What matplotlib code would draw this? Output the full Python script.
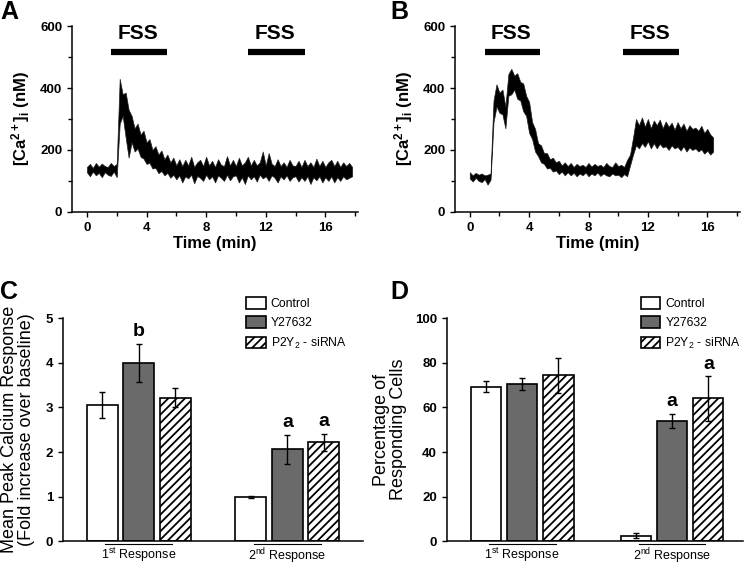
import numpy as np
import matplotlib
matplotlib.use('Agg')
import matplotlib.pyplot as plt
from matplotlib.transforms import blended_transform_factory

plt.rcParams['font.family'] = ['Liberation Sans', 'DejaVu Sans']
plt.rcParams['mathtext.fontset'] = 'custom'
plt.rcParams['mathtext.rm'] = 'Liberation Sans'
plt.rcParams['mathtext.it'] = 'Liberation Sans:italic'
plt.rcParams['mathtext.bf'] = 'Liberation Sans:bold'
plt.rcParams['hatch.linewidth'] = 1.3

## Panel A trace: low / high edge of the noisy band, every 0.2 min
t_a = np.round(np.arange(0, 17.81, 0.2), 1)
lo_a = [128, 115, 130, 118, 126, 112, 128, 120, 116, 130,
        112, 285, 310, 240, 175, 225, 195, 205, 178, 172,
        155, 158, 140, 142, 125, 132, 118, 126, 110, 120,
        105, 118, 95, 115, 108, 120, 92, 116, 110, 100,
        120, 105, 115, 95, 118, 110, 100, 120, 102, 115,
        118, 95, 112, 90, 118, 105, 115, 98, 120, 108,
        115, 100, 118, 110, 95, 115, 105, 118, 100, 112,
        115, 98, 112, 100, 115, 90, 112, 102, 115, 95,
        112, 100, 115, 95, 112, 100, 115, 105, 110, 115]
hi_a = [145, 155, 142, 158, 146, 156, 148, 145, 158, 148,
        155, 430, 380, 385, 330, 310, 270, 285, 250, 262,
        225, 235, 200, 212, 185, 198, 170, 185, 160, 175,
        150, 170, 148, 168, 150, 178, 145, 160, 168, 148,
        178, 150, 165, 145, 170, 152, 148, 180, 150, 168,
        148, 175, 150, 160, 178, 150, 168, 150, 160, 195,
        150, 190, 155, 148, 170, 148, 160, 145, 168, 150,
        148, 165, 145, 168, 148, 160, 145, 172, 148, 165,
        145, 160, 168, 148, 165, 145, 160, 148, 158, 145]

## Panel B trace
t_b = np.round(np.arange(0, 16.41, 0.2), 1)
lo_b = [108, 98, 110, 100, 96, 106, 88, 104,
        290, 340, 320, 315, 270, 375, 380, 395, 365, 360, 325, 310, 255, 235, 195,
        180, 160, 155, 140, 142, 130, 134, 122, 130, 118, 128, 118, 126, 115, 124,
        118, 127, 115, 124, 118, 127, 116, 124, 118, 115, 124, 118, 120, 112, 122,
        115, 150, 185, 215, 205, 222, 210, 228, 205, 222, 205, 220, 208, 212, 200,
        215, 205, 210, 198, 212, 195, 208, 200, 205, 195, 202, 188, 198, 185, 195]
hi_b = [128, 118, 126, 120, 124, 118, 120, 124,
        360, 412, 385, 395, 340, 445, 462, 440, 448, 420, 415, 375, 355, 290, 268,
        222, 215, 190, 190, 170, 175, 160, 165, 150, 160, 148, 158, 145, 155, 148,
        152, 145, 158, 146, 155, 148, 152, 145, 158, 148, 145, 160, 148, 152, 145,
        168, 185, 240, 300, 280, 305, 275, 300, 270, 295, 280, 298, 270, 292, 275,
        288, 265, 290, 270, 285, 262, 280, 268, 272, 262, 278, 255, 268, 250, 240]

fss_a = [(1.6, 5.4), (10.8, 14.65)]
fss_b = [(1.0, 4.75), (10.35, 14.1)]

## Bar panels
groups = ['1$^{\\mathrm{st}}$ Response', '2$^{\\mathrm{nd}}$ Response']
treatments = ['Control', 'Y27632', 'P2Y$_{\\mathrm{2}}$ - siRNA']
peak_mean = [[3.05, 1.00], [4.00, 2.06], [3.22, 2.22]]
peak_err = [[0.29, 0.02], [0.43, 0.32], [0.22, 0.19]]
peak_sig = [['', ''], ['b', 'a'], ['', 'a']]
pct_mean = [[69.3, 2.5], [70.4, 54.0], [74.3, 64.0]]
pct_err = [[2.3, 1.0], [2.8, 3.2], [7.9, 10.0]]
pct_sig = [['', ''], ['', 'a'], ['', 'a']]

faces = ['white', '#6a6a6a', 'white']
hatches = [None, None, '////']

fig = plt.figure(figsize=(7.47, 5.68), dpi=100)


def style_axes(ax):
    for s in ['top', 'right']:
        ax.spines[s].set_visible(False)
    for s in ['left', 'bottom']:
        ax.spines[s].set_linewidth(1.1)
    ax.tick_params(direction='out', length=3.5, width=1.0, labelsize=9.5)
    ax.tick_params(which='minor', direction='out', length=3, width=1.0)
    for lab in ax.get_xticklabels() + ax.get_yticklabels():
        lab.set_fontweight('bold')


def plot_trace(ax, t, lo, hi, fss):
    ax.fill_between(t, lo, hi, facecolor='k', edgecolor='#222222', lw=0.5)
    ax.set_xlim(-1.0, 18.2)
    ax.set_ylim(0, 600)
    ax.set_xticks([0, 4, 8, 12, 16])
    ax.set_xticks([2, 6, 10, 14, 18], minor=True)
    ax.set_yticks([0, 200, 400, 600])
    ax.set_yticks([100, 300, 500], minor=True)
    style_axes(ax)
    for a, b in fss:
        ax.plot([a, b], [518, 518], color='k', lw=4.5, solid_capstyle='butt', clip_on=False)
        ax.text((a + b) / 2 - 0.1, 545, 'FSS', ha='center', va='bottom',
                fontsize=15, fontweight='bold')
    ax.set_xlabel('Time (min)', fontsize=12, fontweight='bold', labelpad=2)
    ax.set_ylabel('[Ca$^{\\mathbf{2+}}$]$_{\\mathbf{i}}$ (nM)', fontsize=12,
                  fontweight='bold', labelpad=6)


def plot_bars(ax, means, errs, sig, centers, width, xmax, ylim, yticks, sig_off):
    for i in range(3):
        pos = [c + (i - 1) for c in centers]
        ax.bar(pos, means[i], width, yerr=errs[i], color=faces[i], edgecolor='k',
               linewidth=1.2, hatch=hatches[i], label=treatments[i],
               error_kw=dict(ecolor='k', elinewidth=1.0, capsize=2.5, capthick=1.0))
        for p, m, e, s in zip(pos, means[i], errs[i], sig[i]):
            if s:
                ax.text(p, m + e + sig_off, s, ha='center', va='bottom',
                        fontsize=14, fontweight='bold')
    ax.set_xlim(0, xmax)
    ax.set_ylim(*ylim)
    ax.set_yticks(yticks)
    ax.set_xticks([])
    style_axes(ax)
    tr = blended_transform_factory(ax.transData, ax.transAxes)
    for c, g in zip(centers, groups):
        ax.plot([c - 0.92, c + 0.92], [-0.014, -0.014], color='k', lw=0.8,
                transform=tr, clip_on=False)
        ax.text(c, -0.022, g, ha='center', va='top', fontsize=9, transform=tr)


axA = fig.add_axes([0.0964, 0.627, 0.383, 0.327])
plot_trace(axA, t_a, lo_a, hi_a, fss_a)
axB = fig.add_axes([0.609, 0.627, 0.3815, 0.327])
plot_trace(axB, t_b, lo_b, hi_b, fss_b)

axC = fig.add_axes([0.0843, 0.047, 0.4016, 0.393])
plot_bars(axC, peak_mean, peak_err, peak_sig, [2.07, 6.15], 0.85, 8.22,
          (0, 5), [0, 1, 2, 3, 4, 5], 0.08)
axC.set_ylabel('Mean Peak Calcium Response\n(Fold increase over baseline)',
               fontsize=13, labelpad=8, linespacing=1.0)
axD = fig.add_axes([0.598, 0.047, 0.396, 0.393])
plot_bars(axD, pct_mean, pct_err, pct_sig, [2.08, 6.21], 0.83, 8.15,
          (0, 100), [0, 20, 40, 60, 80, 100], 1.5)
axD.set_ylabel('Percentage of\nResponding Cells', fontsize=13, labelpad=6, linespacing=1.0)

for ax, xa in [(axC, 0.595), (axD, 0.64)]:
    ax.legend(loc='upper left', bbox_to_anchor=(xa, 1.115), frameon=False,
              fontsize=8.8, handlelength=1.6, handleheight=1.1, handletextpad=0.4,
              labelspacing=0.5, borderaxespad=0)

for lbl, x, y in [('A', 0.0, 1.0), ('B', 0.522, 1.0), ('C', 0.0, 0.507), ('D', 0.522, 0.507)]:
    fig.text(x, y, lbl, ha='left', va='top', fontsize=18, fontweight='bold')

fig.savefig('out.png', dpi=100)
